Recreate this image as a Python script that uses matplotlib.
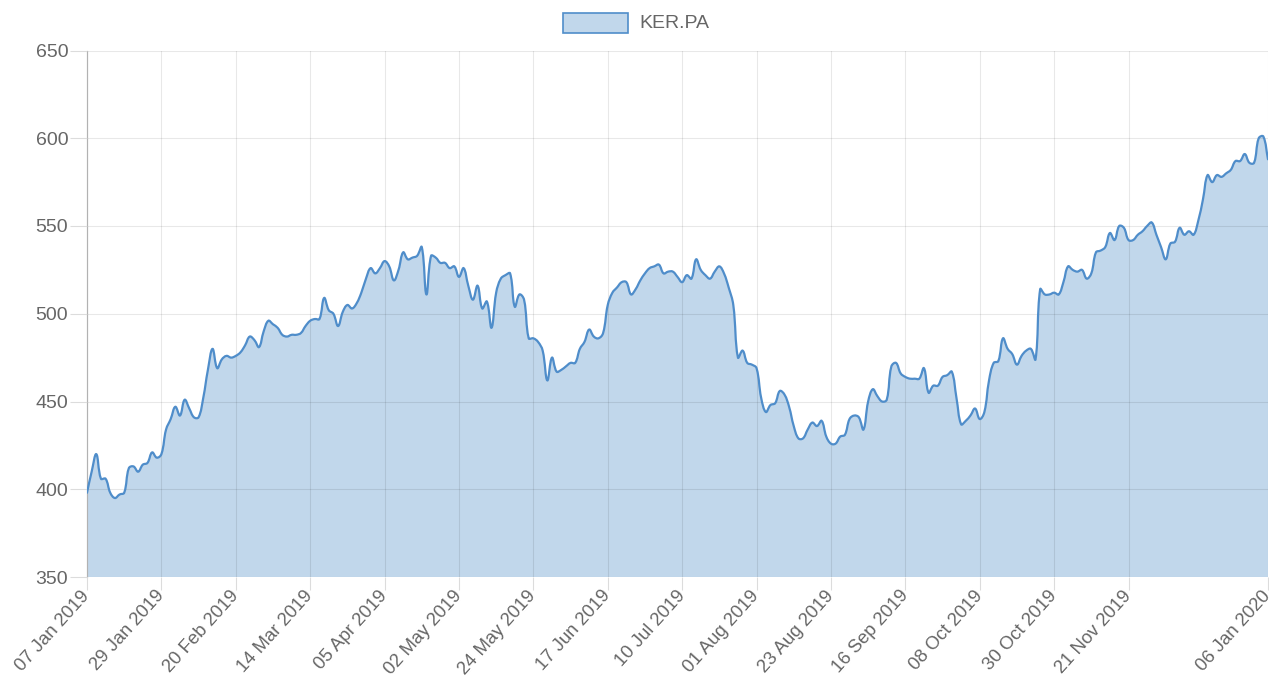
import numpy as np
import pandas as pd
import matplotlib
matplotlib.use("Agg")
import matplotlib.pyplot as plt
from matplotlib.path import Path
from matplotlib.patches import PathPatch, Rectangle

# ---------------- data ----------------
series_name = "KER.PA"
start_date = "2019-01-07"
end_date = "2020-01-06"
closed_days = ["2019-04-19", "2019-04-22", "2019-05-01", "2019-06-28",
               "2019-12-25", "2020-01-01"]

prices = [
    398, 410, 420, 406, 406, 398, 395, 397, 398, 412,   # 0-9
    413, 410, 414, 415, 421, 418, 420, 434, 440, 447,   # 10-19
    442, 451, 446, 441, 441, 452, 468, 480, 469, 474,   # 20-29
    476, 475, 476, 478, 482, 487, 485, 481, 490, 496,   # 30-39
    494, 492, 488, 487, 488, 488, 489, 493, 496, 497,   # 40-49
    497, 509, 502, 500, 493, 501, 505, 503, 506, 512,   # 50-59
    520, 526, 523, 526, 530, 527, 519, 525, 535, 531,   # 60-69
    532, 533, 538, 511, 533, 532, 529, 529, 526, 527,   # 70-79
    521, 526, 516, 508, 516, 503, 507, 492, 512, 520,   # 80-89
    522, 523, 504, 511, 508, 486, 486, 484, 479, 462,   # 90-99
    475, 467, 468, 470, 472, 472, 480, 484, 491, 487,   # 100-109
    486, 489, 505, 512, 515, 518, 518, 511, 514, 519,   # 110-119
    523, 526, 527, 528, 523, 524, 524, 521, 518, 522,   # 120-129
    520, 531, 525, 522, 520, 524, 527, 523, 515, 505,   # 130-139
    475, 479, 472, 471, 469, 452, 444, 448, 449, 456,   # 140-149
    454, 447, 436, 429, 429, 434, 438, 436, 439, 430,   # 150-159
    426, 426, 430, 431, 440, 442, 441, 434, 450, 457,   # 160-169
    453, 450, 451, 470, 472, 466, 464, 463, 463, 463,   # 170-179
    469, 455, 459, 459, 464, 465, 467, 452, 437, 439,   # 180-189
    442, 446, 440, 444, 462, 472, 473, 486, 480, 477,   # 190-199
    471, 476, 479, 480, 474, 514, 511, 511, 512, 511,   # 200-209
    518, 527, 525, 524, 525, 520, 523, 535, 536, 538,   # 210-219
    546, 542, 550, 549, 542, 542, 545, 547, 550, 552,   # 220-229
    545, 538, 531, 540, 541, 549, 545, 547, 545, 553,   # 230-239
    565, 579, 575, 579, 578, 580, 582, 587, 587, 591,   # 240-249
    586, 586, 600, 601, 588,                            # 250-254
]

y_ticks = [350, 400, 450, 500, 550, 600, 650]
label_step = 16

dates = pd.bdate_range(start_date, end_date, freq="C", holidays=closed_days)
labels = [d.strftime("%d %b %Y") for d in dates]

# ---------------- style ----------------
plt.rcParams["font.family"] = ["Liberation Sans", "DejaVu Sans"]
text_color = "#666666"
line_color = "#4f8dca"
fill_color = "#c1d7eb"
tick_color = "#dcdcdc"
font_size = 14

W, H = 1269, 680
fig = plt.figure(figsize=(W / 100, H / 100), dpi=100)
left, right, top, bottom = 87, 1268, 50.5, 577
ax = fig.add_axes([left / W, 1 - bottom / H, (right - left) / W, (bottom - top) / H])

n = len(prices)
x = np.arange(n)
y = np.array(prices, dtype=float)
ax.set_xlim(0, n - 1)
ax.set_ylim(y_ticks[0], y_ticks[-1])

# Chart.js-like bezier smoothing (tension 0.4) computed in display space
fig.canvas.draw()
pts = ax.transData.transform(np.column_stack([x, y]))
t = 0.4
cp_prev = np.zeros_like(pts)
cp_next = np.zeros_like(pts)
bb = ax.bbox
for i in range(n):
    p0 = pts[i - 1] if i > 0 else pts[i]
    p1 = pts[i]
    p2 = pts[i + 1] if i < n - 1 else pts[i]
    d01 = np.hypot(*(p1 - p0))
    d12 = np.hypot(*(p2 - p1))
    tot = d01 + d12
    s01 = d01 / tot if tot else 0
    s12 = d12 / tot if tot else 0
    cp_prev[i] = p1 - t * s01 * (p2 - p0)
    cp_next[i] = p1 + t * s12 * (p2 - p0)
for arr in (cp_prev, cp_next):
    arr[:, 0] = np.clip(arr[:, 0], bb.x0, bb.x1)
    arr[:, 1] = np.clip(arr[:, 1], bb.y0, bb.y1)
inv = ax.transData.inverted()
dp = inv.transform(pts)
cpp = inv.transform(cp_prev)
cpn = inv.transform(cp_next)

verts = [dp[0]]
codes = [Path.MOVETO]
for i in range(n - 1):
    verts += [cpn[i], cpp[i + 1], dp[i + 1]]
    codes += [Path.CURVE4] * 3
line_path = Path(verts, codes)

fill_verts = verts + [(x[-1], y_ticks[0]), (x[0], y_ticks[0]), dp[0]]
fill_codes = codes + [Path.LINETO, Path.LINETO, Path.CLOSEPOLY]
ax.add_patch(PathPatch(Path(fill_verts, fill_codes), facecolor=fill_color,
                       edgecolor="none", zorder=1))
ax.add_patch(PathPatch(line_path, facecolor="none", edgecolor=line_color,
                       linewidth=1.6, zorder=3, capstyle="round", joinstyle="round"))

# ticks
tick_idx = list(range(0, n - label_step, label_step)) + [n - 1]
ax.set_xticks(tick_idx)
ax.set_xticklabels([labels[i] for i in tick_idx], rotation=48, ha="right",
                   va="center", rotation_mode="anchor", fontsize=13.3)
ax.set_yticks(y_ticks)
ax.set_yticklabels([str(v) for v in y_ticks], fontsize=font_size)
ax.tick_params(axis="both", colors=tick_color, labelcolor=text_color, width=0.8)
ax.tick_params(axis="x", length=9.5, pad=2)
ax.tick_params(axis="y", length=12, pad=1.5)

ax.set_axisbelow(False)
ax.grid(True, color="black", alpha=0.09, linewidth=0.8)
for s in ["top", "right", "bottom"]:
    ax.spines[s].set_visible(False)
ax.spines["left"].set_color("#c4c4c4")
ax.spines["left"].set_linewidth(0.9)

# legend (Chart.js style)
fig.patches.append(Rectangle((563 / W, 1 - 33 / H), 65 / W, 20 / H,
                             transform=fig.transFigure, facecolor=fill_color,
                             edgecolor=line_color, linewidth=1.2))
fig.text(639 / W, 1 - 23 / H, series_name, color=text_color, fontsize=font_size,
         va="center", ha="left")

fig.savefig("out.png", dpi=100)
